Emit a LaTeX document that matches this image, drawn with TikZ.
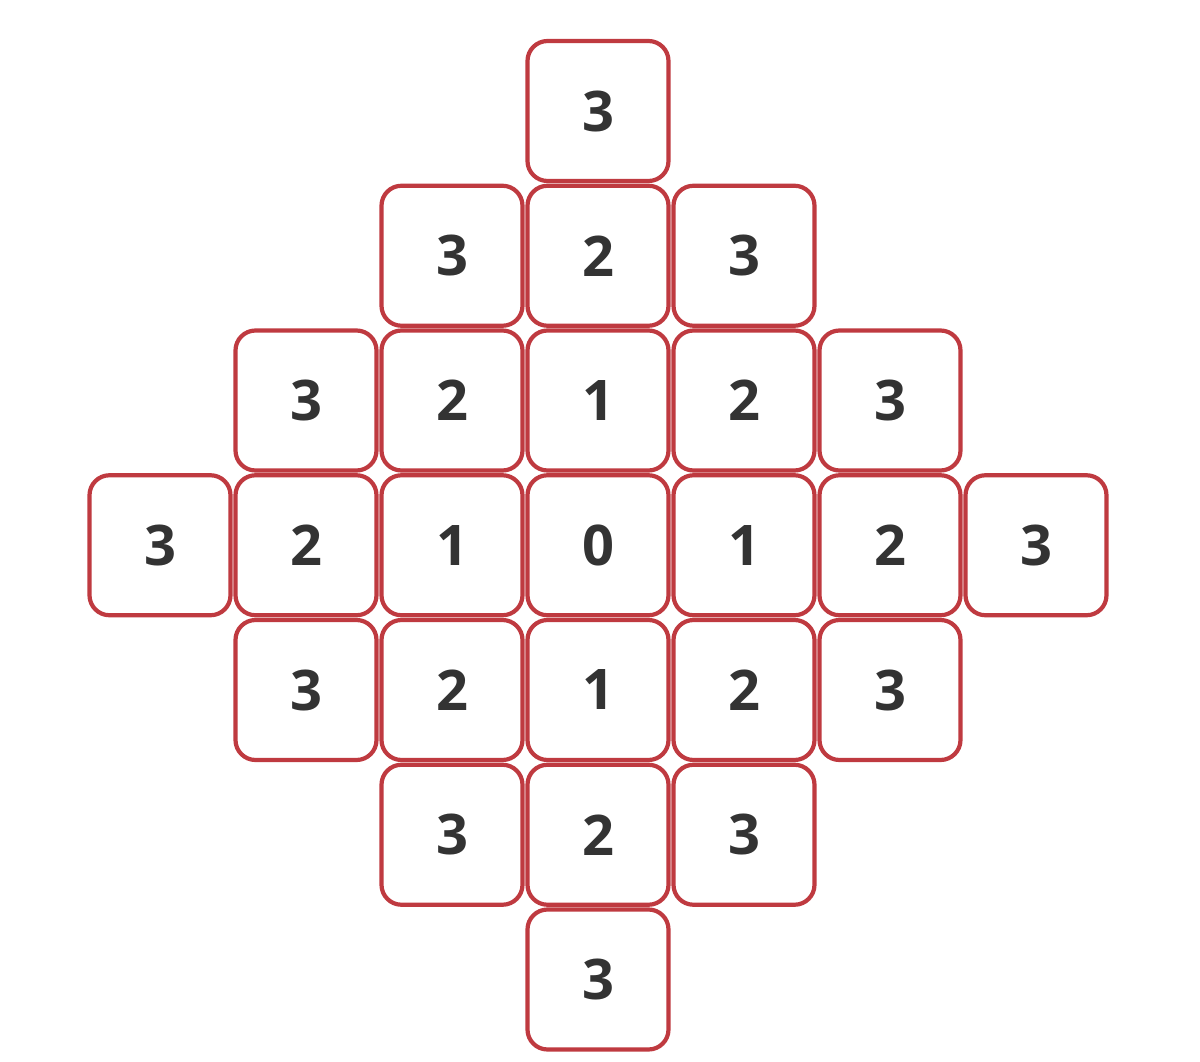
\documentclass[tikz,border=0pt]{standalone}
\usepackage{fontspec}
\setmainfont{Open Sans}
\definecolor{boxred}{HTML}{BF3A40}
\definecolor{digit}{HTML}{333333}
\begin{document}
\begin{tikzpicture}[x=1pt,y=-1pt,
  cell/.style={draw=boxred, line width=4.2pt, fill=white, rounded corners=20pt,
    minimum width=141pt, minimum height=140pt, inner sep=0pt,
    font=\fontsize{56}{58}\selectfont\bfseries, text=digit}]
\useasboundingbox (0,0) rectangle (1200,1062);
\foreach \r in {0,...,6}{
  \foreach \c in {0,...,6}{
    \pgfmathtruncatemacro{\d}{abs(\r-3)+abs(\c-3)}
    \ifnum\d<4
      \node[cell] (n\r\c) at ({160+146*\c},{111+144.75*\r}) {\d};
    \fi
  }
}
\end{tikzpicture}
\end{document}
